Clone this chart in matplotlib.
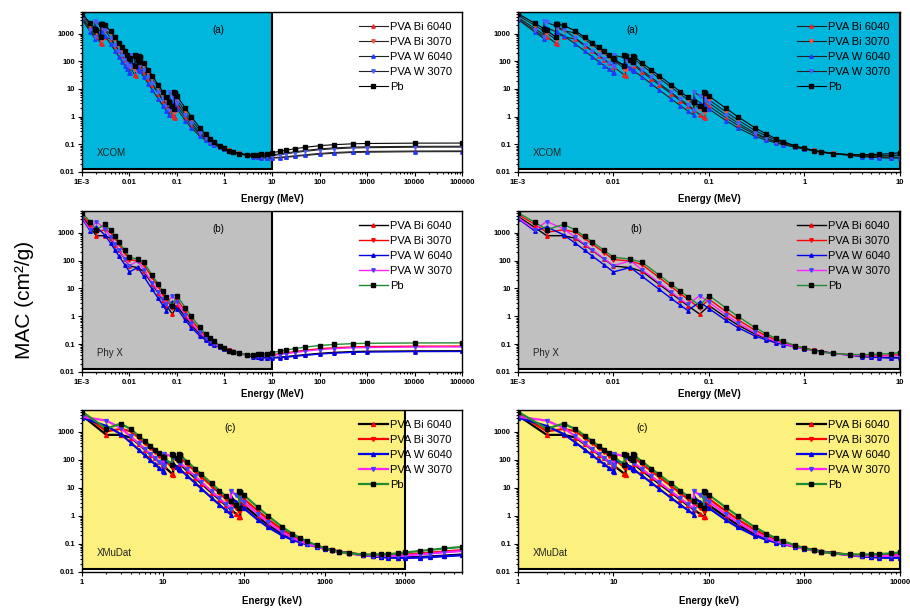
import numpy as np
import matplotlib.pyplot as plt
from matplotlib.ticker import FixedLocator, LogLocator, NullFormatter

plt.rcParams['font.family'] = ['Liberation Sans', 'DejaVu Sans']

# photon energy in keV; a repeated energy is an absorption edge (below / above)
energy_kev = [1, 1.5, 1.87, 1.87, 2, 2.48, 2.48, 2.58, 2.58, 3, 4, 5, 6, 7, 8, 9, 10,
              10.2, 10.2, 13.0, 13.0, 13.4, 13.4, 15, 15.9, 15.9, 16.4, 16.4, 20, 25, 30,
              40, 50, 60, 69.5, 69.5, 80, 88.0, 88.0, 90.5, 90.5, 100, 150, 200, 300, 400,
              500, 600, 800, 1000, 1250, 1500, 2000, 3000, 4000, 5000, 6000, 8000, 10000,
              15000, 20000, 30000, 50000, 1e5, 2e5, 5e5, 1e6, 1e7, 1e8]

mac_bi6040 = [3840, 1530, 914, 914, 776, 453, 453, 414, 1006, 778, 625, 365, 230, 154, 112, 83.1, 63.4,
              60.1, 60.1, 31.9, 31.9, 29.5, 73.1, 55.5, 47.8, 47.8, 43.8, 69.8, 40.4, 22.7, 14.2,
              6.78, 3.81, 2.39, 1.67, 1.67, 1.19, 0.942, 0.942, 0.893, 3.10, 2.40, 0.916, 0.488, 0.234, 0.157,
              0.122, 0.104, 0.0822, 0.0700, 0.0608, 0.0544, 0.0473, 0.0404, 0.0366, 0.0351, 0.0337, 0.0328, 0.0332,
              0.0343, 0.0357, 0.0385, 0.0420, 0.0466, 0.0505, 0.0539, 0.0554, 0.0571, 0.0576]
mac_bi3070 = [4540, 1970, 1220, 1220, 1040, 617, 617, 567, 1600, 1260, 1050, 617, 390, 262, 191, 142, 108,
              103, 103, 54.5, 54.5, 50.2, 127, 96.3, 82.9, 82.9, 75.9, 121, 70.2, 39.3, 24.6,
              11.7, 6.50, 4.05, 2.78, 2.78, 1.94, 1.52, 1.52, 1.44, 5.30, 4.07, 1.49, 0.754, 0.322, 0.196,
              0.143, 0.115, 0.0861, 0.0707, 0.0599, 0.0532, 0.0468, 0.0415, 0.0393, 0.0389, 0.0387, 0.0394, 0.0416,
              0.0454, 0.0486, 0.0540, 0.0602, 0.0681, 0.0742, 0.0794, 0.0817, 0.0841, 0.0848]
mac_w6040 = [3210, 1140, 658, 1870, 1610, 1180, 1180, 1110, 1110, 838, 415, 232, 145, 97.5, 69.5, 51.1, 39.0,
             37.3, 94.5, 77.1, 77.1, 72.3, 72.3, 56.3, 48.6, 48.6, 44.6, 44.6, 26.8, 15.1, 9.28,
             4.42, 2.51, 1.60, 1.11, 4.59, 3.23, 2.54, 2.54, 2.38, 2.38, 1.88, 0.720, 0.394, 0.199, 0.140,
             0.112, 0.0968, 0.0786, 0.0678, 0.0594, 0.0534, 0.0465, 0.0397, 0.0358, 0.0342, 0.0328, 0.0318, 0.0317,
             0.0325, 0.0339, 0.0363, 0.0394, 0.0440, 0.0473, 0.0507, 0.0518, 0.0539, 0.0544]
mac_w3070 = [3450, 1290, 769, 2880, 2510, 1890, 1890, 1780, 1780, 1370, 686, 385, 242, 163, 116, 85.5, 65.5,
             62.7, 163, 134, 134, 125, 125, 97.7, 84.3, 84.3, 77.3, 77.3, 46.4, 26.0, 16.0,
             7.56, 4.23, 2.65, 1.80, 7.90, 5.52, 4.32, 4.32, 4.04, 4.04, 3.16, 1.15, 0.589, 0.262, 0.166,
             0.125, 0.103, 0.0798, 0.0669, 0.0575, 0.0515, 0.0454, 0.0402, 0.0380, 0.0374, 0.0371, 0.0377, 0.0390,
             0.0423, 0.0455, 0.0501, 0.0557, 0.0635, 0.0686, 0.0738, 0.0754, 0.0785, 0.0792]
mac_pb = [5210, 2360, 1500, 1500, 1290, 760, 2300, 2150, 2150, 1960, 1250, 730, 467, 315, 229, 169, 131,
          124, 124, 66, 162, 150, 150, 112, 96, 156, 145, 145, 86.4, 48, 30.3,
          14.4, 8.04, 5.02, 3.4, 3.4, 2.42, 1.91, 7.68, 7.1, 7.1, 5.55, 2.01, 1.0, 0.403, 0.232,
          0.161, 0.125, 0.0887, 0.071, 0.0584, 0.0522, 0.0461, 0.0423, 0.042, 0.0427, 0.0436, 0.0459, 0.0497,
          0.056, 0.061, 0.069, 0.078, 0.089, 0.097, 0.104, 0.107, 0.110, 0.111]

labels = ['PVA Bi 6040', 'PVA Bi 3070', 'PVA W 6040', 'PVA W 3070', 'Pb']

# energies tabulated by Phy-X and by XMuDat (subsets of the grid above)
phyx_kev = [1, 1.5, 2, 3, 4, 5, 6, 8, 10, 15, 20, 30, 40, 50, 60, 80, 100, 150, 200, 300, 400,
            500, 600, 800, 1000, 1250, 1500, 2000, 3000, 4000, 5000, 6000, 8000, 10000, 15000,
            20000, 30000, 50000, 1e5, 2e5, 5e5, 1e6, 1e7, 1e8]
xmudat_low_kev = [1, 2, 3, 4, 5, 6, 7, 8, 9]

e = np.array(energy_kev)
all_mac = [mac_bi6040, mac_bi3070, mac_w6040, mac_w3070, mac_pb]

style_a = [dict(color='#222222', marker='^', mfc='#e8252a', mec='#e8252a'),
           dict(color='#222222', marker='v', mfc='#f2553f', mec='#f2553f'),
           dict(color='#222222', marker='^', mfc='#1a3cff', mec='#1a3cff'),
           dict(color='#222222', marker='v', mfc='#4a5cff', mec='#4a5cff'),
           dict(color='black', marker='s', mfc='black', mec='black')]
style_bc = [dict(color='black', marker='^', mfc='red', mec='red'),
            dict(color='red', marker='v', mfc='red', mec='red'),
            dict(color='#0000e6', marker='^', mfc='#0000e6', mec='#0000e6'),
            dict(color='#ff22ff', marker='v', mfc='#4040ff', mec='#4040ff'),
            dict(color='#1e8c2e', marker='s', mfc='black', mec='black')]

mev_ticks = [1e-3, 1e-2, 0.1, 1, 10, 100, 1000, 1e4, 1e5]
mev_labels = ['1E-3', '0.01', '0.1', '1', '10', '100', '1000', '10000', '100000']
kev_ticks = [1, 10, 100, 1000, 1e4]
kev_labels = ['1', '10', '100', '1000', '10000']


def panel(ax, x, mask, xlim, shade_to, nticks, ticks, ticklabels, xlabel, bg,
          letter, letter_x, code, styles, lw, ms, lpad):
    ax.set_xscale('log')
    ax.set_yscale('log')
    ax.axvspan(xlim[0], shade_to, ymin=0.02, ymax=1, fc=bg, ec='black', lw=1.5, zorder=0)
    for vals, lab, st in zip(all_mac, labels, styles):
        ax.plot(x[mask], np.array(vals)[mask], lw=lw, ms=ms, label=lab, **st)
    ax.set_xlim(xlim)
    ax.set_ylim(0.01, 6000)
    ax.xaxis.set_major_locator(FixedLocator(ticks[:nticks]))
    ax.set_xticklabels(ticklabels[:nticks])
    ax.xaxis.set_minor_locator(LogLocator(base=10, subs=np.arange(2, 10), numticks=100))
    ax.xaxis.set_minor_formatter(NullFormatter())
    ax.set_yticks([0.01, 0.1, 1, 10, 100, 1000])
    ax.set_yticklabels(['0.01', '0.1', '1', '10', '100', '1000'])
    ax.yaxis.set_minor_locator(LogLocator(base=10, subs=np.arange(2, 10), numticks=100))
    ax.yaxis.set_minor_formatter(NullFormatter())
    ax.tick_params(which='both', direction='out', labelsize=5.5, width=0.8, pad=2)
    ax.tick_params(which='major', length=3)
    ax.tick_params(which='minor', length=1.5)
    for t in ax.get_xticklabels() + ax.get_yticklabels():
        t.set_fontweight('bold')
    for sp in ax.spines.values():
        sp.set_linewidth(1.0)
    ax.set_xlabel(xlabel, fontsize=7, fontweight='bold', labelpad=lpad)
    ax.text(letter_x, 0.89, letter, transform=ax.transAxes, fontsize=7, ha='center', va='center')
    ax.text(0.04, 0.12, code, transform=ax.transAxes, fontsize=7, ha='left', va='center',
            color='#222222')
    ax.legend(loc='upper right', frameon=False, fontsize=8, handlelength=2.6,
              labelspacing=0.45, borderaxespad=0.5, handletextpad=0.2)


fig = plt.figure(figsize=(9.1, 6.09), dpi=100)
bottoms = [0.7176, 0.3892, 0.0608]
heights = [0.2627, 0.2644, 0.266]
lefts = [0.0901, 0.5692]
widths = [0.4176, 0.4198]

x_mev = e / 1000.0
all_rows = np.ones(len(e), dtype=bool)
phyx_rows = np.isin(e, phyx_kev)
xmu_rows = np.isin(e, xmudat_low_kev) | (e >= 10)

for col in range(2):
    wide = col == 0
    # (a) XCOM
    ax = fig.add_axes([lefts[col], bottoms[0], widths[col], heights[0]])
    panel(ax, x_mev, all_rows, (1e-3, 1e5 if wide else 10), 10, 9 if wide else 5,
          mev_ticks, mev_labels, 'Energy (MeV)', '#00b6dc', '(a)', 0.36 if wide else 0.3,
          'XCOM', style_a, 0.8, 2.5, 6)
    # (b) Phy-X
    ax = fig.add_axes([lefts[col], bottoms[1], widths[col], heights[1]])
    panel(ax, x_mev, phyx_rows, (1e-3, 1e5 if wide else 10), 10, 9 if wide else 5,
          mev_ticks, mev_labels, 'Energy (MeV)', '#c0c0c0', '(b)', 0.36 if wide else 0.31,
          'Phy X', style_bc, 1.0, 2.5, 2)
    # (c) XMuDat
    ax = fig.add_axes([lefts[col], bottoms[2], widths[col], heights[2]])
    panel(ax, e, xmu_rows, (1, 50000 if wide else 10000), 10000, 5,
          kev_ticks, kev_labels, 'Energy (keV)', '#fcf07e', '(c)', 0.39 if wide else 0.325,
          'XMuDat', style_bc, 1.6, 2.8, 7)

fig.text(0.027, 0.507, 'MAC (cm²/g)', rotation=90, fontsize=15, ha='center', va='center')

fig.savefig('out.png', dpi=100)
